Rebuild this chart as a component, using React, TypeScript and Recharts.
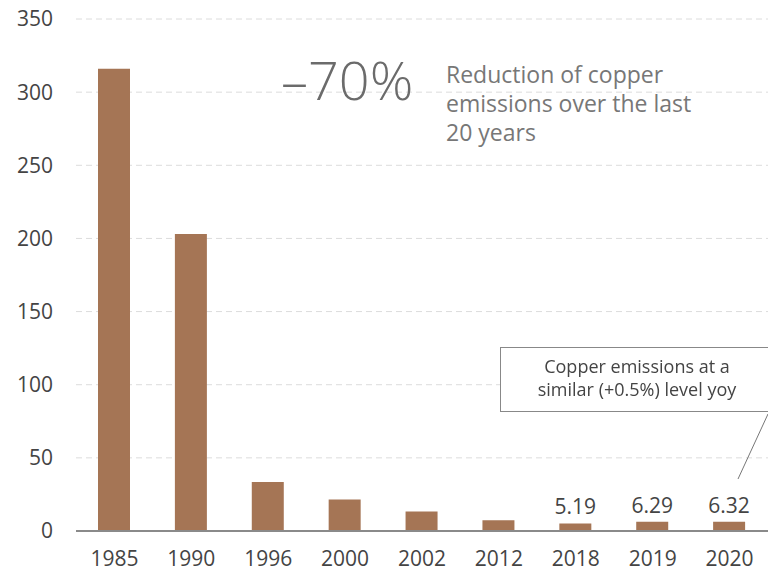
import { BarChart, Bar, XAxis, YAxis, CartesianGrid, LabelList } from 'recharts';

const years = ['1985', '1990', '1996', '2000', '2002', '2012', '2018', '2019', '2020'];
const emissions = [316, 203, 33.5, 21.5, 13.3, 7.4, 5.19, 6.29, 6.32];
const valueLabels = ['', '', '', '', '', '', '5.19', '6.29', '6.32'];
const yTicks = [0, 50, 100, 150, 200, 250, 300, 350];

const data = years.map((year, i) => ({ year, value: emissions[i], label: valueLabels[i] }));

const font = '"Open Sans", sans-serif';

export default function App() {
  return (
    <div style={{ position: 'fixed', left: 0, top: 0, width: 768, height: 572, fontFamily: font, background: '#fff' }}>
      <BarChart width={768} height={572} data={data} margin={{ top: 19, right: 0, left: 16, bottom: 0 }} barSize={32}>
        <CartesianGrid vertical={false} stroke="#dcdcdc" strokeDasharray="6 4" />
        <XAxis
          dataKey="year"
          height={41}
          tickLine={false}
          tickSize={0}
          tickMargin={20}
          axisLine={{ stroke: '#8a8a8a', strokeWidth: 2 }}
          tick={{ fill: '#444', fontSize: 21, fontFamily: font }}
        />
        <YAxis
          width={60}
          domain={[0, 350]}
          ticks={yTicks}
          axisLine={false}
          tickLine={false}
          tickSize={0}
          tickMargin={23}
          tick={{ fill: '#444', fontSize: 21, fontFamily: font }}
        />
        <Bar dataKey="value" fill="#a57555" isAnimationActive={false}>
          <LabelList dataKey="label" position="top" offset={9} fill="#444" fontSize={21} fontFamily={font} />
        </Bar>
      </BarChart>

      <div style={{ position: 'absolute', left: 281, top: 52, fontSize: 54, color: '#6b6b6b', lineHeight: 1, fontWeight: 300 }}>
        –70%
      </div>
      <div style={{ position: 'absolute', left: 446, top: 60, fontSize: 23, color: '#777', lineHeight: '29px', width: 300 }}>
        Reduction of copper
        <br />
        emissions over the last
        <br />
        20 years
      </div>

      <div
        style={{
          position: 'absolute',
          left: 500,
          top: 347,
          width: 280,
          height: 65,
          border: '1px solid #888',
          boxSizing: 'border-box',
          background: '#fff',
        }}
      />
      <div style={{ position: 'absolute', left: 501, top: 355, width: 272, textAlign: 'center', fontSize: 18, color: '#444', lineHeight: '23px' }}>
        Copper emissions at a
        <br />
        similar (+0.5%) level yoy
      </div>
      <svg style={{ position: 'absolute', left: 0, top: 0 }} width={768} height={572}>
        <line x1={768} y1={414} x2={738} y2={479} stroke="#777" strokeWidth={1} />
      </svg>
    </div>
  );
}
